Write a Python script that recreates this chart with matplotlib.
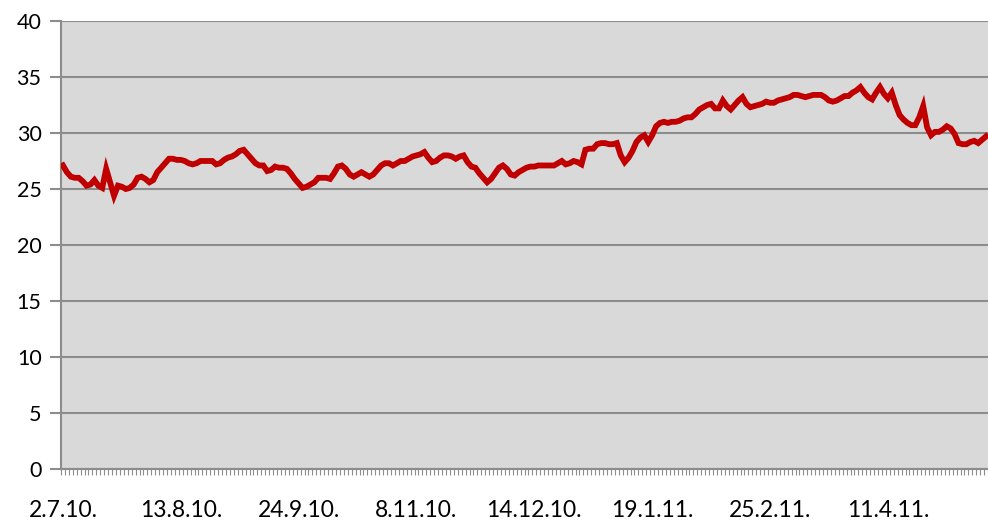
import matplotlib
matplotlib.use("Agg")
import matplotlib.pyplot as plt
import numpy as np

tick_labels = ["2.7.10.", "13.8.10.", "24.9.10.", "8.11.10.", "14.12.10.",
               "19.1.11.", "25.2.11.", "11.4.11."]
label_step = 30

values = [
    27.1, 26.5, 26.1, 26.0, 26.0, 25.7, 25.3, 25.4, 25.8, 25.3,
    25.1, 26.8, 25.6, 24.4, 25.3, 25.2, 25.0, 25.1, 25.4, 26.0,
    26.1, 25.9, 25.6, 25.8, 26.5, 26.9, 27.3, 27.7, 27.7, 27.6,
    27.6, 27.5, 27.3, 27.2, 27.3, 27.5, 27.5, 27.5, 27.5, 27.2,
    27.3, 27.6, 27.8, 27.9, 28.1, 28.4, 28.5, 28.1, 27.7, 27.3,
    27.1, 27.1, 26.6, 26.7, 27.0, 26.9, 26.9, 26.8, 26.4, 25.9,
    25.5, 25.1, 25.2, 25.4, 25.6, 26.0, 26.0, 26.0, 25.9, 26.4,
    27.0, 27.1, 26.8, 26.3, 26.1, 26.3, 26.5, 26.3, 26.1, 26.3,
    26.7, 27.1, 27.3, 27.3, 27.1, 27.3, 27.5, 27.5, 27.7, 27.9,
    28.0, 28.1, 28.3, 27.8, 27.4, 27.5, 27.8, 28.0, 28.0, 27.9,
    27.7, 27.9, 28.0, 27.4, 27.0, 26.9, 26.4, 26.0, 25.6, 25.9,
    26.4, 26.9, 27.1, 26.8, 26.3, 26.2, 26.5, 26.7, 26.9, 27.0,
    27.0, 27.1, 27.1, 27.1, 27.1, 27.1, 27.3, 27.5, 27.2, 27.3,
    27.5, 27.4, 27.2, 28.5, 28.6, 28.6, 29.0, 29.1, 29.1, 29.0,
    29.0, 29.1, 28.0, 27.4, 27.8, 28.4, 29.2, 29.6, 29.8, 29.2,
    29.8, 30.6, 30.9, 31.0, 30.9, 31.0, 31.0, 31.1, 31.3, 31.4,
    31.4, 31.7, 32.1, 32.3, 32.5, 32.6, 32.2, 32.2, 32.9, 32.4,
    32.1, 32.5, 32.9, 33.2, 32.6, 32.3, 32.4, 32.5, 32.6, 32.8,
    32.7, 32.7, 32.9, 33.0, 33.1, 33.2, 33.4, 33.4, 33.3, 33.2,
    33.3, 33.4, 33.4, 33.4, 33.2, 32.9, 32.8, 32.9, 33.1, 33.3,
    33.3, 33.6, 33.8, 34.1, 33.6, 33.2, 33.0, 33.6, 34.1, 33.5,
    33.1, 33.6, 32.5, 31.6, 31.2, 30.9, 30.7, 30.7, 31.4, 32.4,
    30.5, 29.8, 30.1, 30.1, 30.3, 30.6, 30.4, 29.9, 29.1, 29.0,
    29.0, 29.2, 29.3, 29.1, 29.4, 29.7,
]

n = len(values)
x = np.arange(n)

fig = plt.figure(figsize=(9.88, 5.22), dpi=100)
ax = fig.add_axes([61/988, 53/522, 927/988, 448/522])
ax.set_facecolor("#D9D9D9")

ax.plot(x, values, color="#C00000", lw=4.2, solid_joinstyle="miter", zorder=3)

ax.set_xlim(-0.5, n - 0.5)
ax.set_ylim(0, 40)
ax.set_yticks(np.arange(0, 41, 5))
ax.yaxis.grid(True, color="#8C8C8C", lw=1.5)
ax.set_axisbelow(True)

ax.set_xticks(np.arange(0, n, label_step))
ax.set_xticklabels(tick_labels[:len(np.arange(0, n, label_step))])
ax.set_xticks(np.arange(-0.5, n, 1), minor=True)
ax.tick_params(axis="x", which="major", length=0, pad=22, labelsize=16.5)
ax.tick_params(axis="x", which="minor", length=4, width=0.8, color="#8C8C8C", direction="out")
ax.tick_params(axis="y", length=8, width=1.5, color="#8C8C8C", labelsize=15.5, pad=6)

for lab in ax.get_xticklabels() + ax.get_yticklabels():
    lab.set_fontfamily(["Lato", "DejaVu Sans"])

for s in ["top", "right"]:
    ax.spines[s].set_visible(False)
for s in ["left", "bottom"]:
    ax.spines[s].set_color("#8C8C8C")
    ax.spines[s].set_linewidth(1.5)

fig.savefig("out.png", dpi=100)
